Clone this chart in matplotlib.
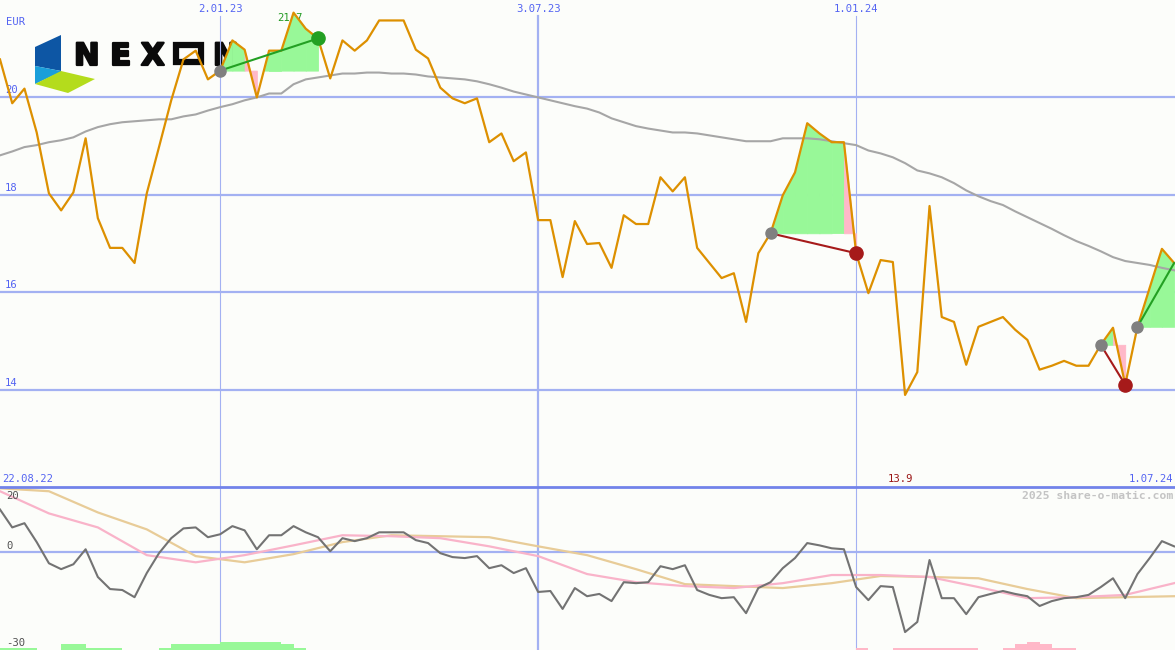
import matplotlib
matplotlib.use("Agg")
import matplotlib.pyplot as plt
import matplotlib.dates as mdates
import matplotlib.patheffects as pe
from matplotlib.patches import Polygon, Rectangle
from matplotlib.lines import Line2D
import numpy as np
import pandas as pd

# weekly closes, EUR
weeks = pd.date_range("2022-08-29", periods=97, freq="7D")
price = [20.78, 19.88, 20.18, 19.28, 18.03, 17.68, 18.05, 19.16, 17.52, 16.91,
         16.91, 16.60, 18.03, 18.98, 19.94, 20.78, 20.96, 20.37, 20.55, 21.17,
         20.98, 20.00, 20.96, 20.96, 21.74, 21.41, 21.21, 20.39, 21.17, 20.96,
         21.17, 21.58, 21.58, 21.58, 20.98, 20.80, 20.20, 19.98, 19.88, 19.98,
         19.08, 19.26, 18.69, 18.87, 17.48, 17.48, 16.31, 17.46, 16.99, 17.01,
         16.50, 17.58, 17.40, 17.40, 18.36, 18.07, 18.36, 16.91, 16.60, 16.29,
         16.39, 15.39, 16.80, 17.21, 17.99, 18.46, 19.47, 19.26, 19.08, 19.08,
         16.80, 15.98, 16.66, 16.62, 13.89, 14.36, 17.77, 15.49, 15.39, 14.51,
         15.29, 15.39, 15.49, 15.23, 15.02, 14.41, 14.49, 14.59, 14.49, 14.49,
         14.92, 15.27, 14.10, 15.29, 16.09, 16.89, 16.60]
avg_line = [18.81, 18.89, 18.98, 19.02, 19.08, 19.12, 19.18, 19.30, 19.39, 19.45,
            19.49, 19.51, 19.53, 19.55, 19.55, 19.61, 19.65, 19.73, 19.80, 19.86,
            19.94, 20.00, 20.08, 20.08, 20.27, 20.37, 20.41, 20.45, 20.49, 20.49,
            20.51, 20.51, 20.49, 20.49, 20.47, 20.43, 20.41, 20.39, 20.37, 20.33,
            20.27, 20.20, 20.12, 20.06, 20.00, 19.94, 19.88, 19.82, 19.77, 19.69,
            19.57, 19.49, 19.41, 19.36, 19.32, 19.28, 19.28, 19.26, 19.22, 19.18,
            19.14, 19.10, 19.10, 19.10, 19.16, 19.16, 19.16, 19.14, 19.10, 19.06,
            19.02, 18.91, 18.85, 18.77, 18.65, 18.50, 18.44, 18.36, 18.24, 18.09,
            17.97, 17.87, 17.79, 17.66, 17.54, 17.42, 17.30, 17.17, 17.05, 16.95,
            16.84, 16.72, 16.64, 16.60, 16.56, 16.50, 16.45]

# trades: entry week, exit week, closed?
trade_start = [18, 63, 90, 93]
trade_end = [26, 70, 92, 96]
trade_closed = [True, True, True, False]

# lower panel
osc = [13.1, 7.6, 8.9, 3.1, -3.4, -5.2, -3.7, 0.9, -7.6, -11.3,
       -11.6, -13.8, -6.4, -0.3, 4.3, 7.3, 7.6, 4.6, 5.5, 8.0,
       6.7, 0.9, 5.2, 5.2, 8.0, 6.1, 4.6, 0.3, 4.3, 3.4,
       4.3, 6.1, 6.1, 6.1, 3.7, 2.8, -0.3, -1.5, -1.8, -1.2,
       -4.9, -4.0, -6.4, -4.9, -12.2, -11.9, -17.4, -11.0, -13.5, -12.8,
       -15.0, -9.2, -9.5, -9.2, -4.3, -5.2, -4.0, -11.6, -13.1, -14.1,
       -13.8, -18.7, -11.0, -9.2, -4.9, -1.8, 2.8, 2.1, 1.2, 0.9,
       -10.7, -14.7, -10.4, -10.7, -24.5, -21.4, -2.4, -14.1, -14.1, -19.0,
       -13.8, -12.8, -11.9, -12.8, -13.5, -16.5, -15.0, -14.1, -13.8, -13.1,
       -10.7, -8.0, -14.1, -6.7, -1.8, 3.4, 1.8]
# smooth lines, sampled every 4 weeks
osc_fast = [18.7, 11.9, 7.6, -0.9, -3.1, -0.9, 2.1, 5.2, 4.9, 4.3, 1.8, -1.2, -6.7,
            -9.2, -10.4, -11.0, -9.5, -7.0, -7.0, -7.6, -10.7, -14.1, -13.8, -13.1, -9.5]
osc_slow = [19.6, 18.7, 12.2, 7.0, -1.2, -3.1, -0.6, 3.1, 5.2, 4.9, 4.6, 1.8, -0.9,
            -5.2, -9.8, -10.4, -11.0, -9.5, -7.3, -7.6, -8.0, -11.3, -14.1, -13.8, -13.5]
hist = [0.7, 0.7, 0.7, 0, 0, 1.8, 1.8, 0.7, 0.7, 0.7,
        0, 0, 0, 0.7, 1.8, 1.8, 1.8, 1.8, 2.5, 2.5,
        2.5, 2.5, 2.5, 1.8, 0.7, 0, 0, 0, 0, 0,
        0, 0, 0, 0, 0, 0, 0, 0, 0, 0,
        0, 0, 0, 0, 0, 0, 0, 0, 0, 0,
        0, 0, 0, 0, 0, 0, 0, 0, 0, 0,
        0, 0, 0, 0, 0, 0, 0, 0, 0, 0,
        -0.7, 0, 0, -0.7, -0.7, -0.7, -0.7, -0.7, -0.7, -0.7,
        0, 0, -0.7, -1.8, -2.5, -1.8, -0.7, -0.7, 0, 0,
        0, 0, 0, 0, 0, 0, 0]

price_grid = [14, 16, 18, 20]
osc_ticks = [20, 0, -30]
tick_dates = ["2023-01-02", "2023-07-03", "2024-01-01"]
tick_labels = ["2.01.23", "3.07.23", "1.01.24"]
tick_width = [1, 2, 1]
range_labels = ["22.08.22", "1.07.24"]

BG = "#fcfdfa"
GRID = "#a3b1f2"
BLUE_TXT = "#5464f2"
GREEN_FILL = "#98f898"
PINK_FILL = "#ffb8c8"
MONO = "DejaVu Sans Mono"

W, H = 1175, 650
fig = plt.figure(figsize=(W / 100, H / 100), dpi=100, facecolor=BG)

# logo layer (pixel coordinates)
lg = fig.add_axes([0, 0, 1, 1], zorder=0)
lg.set_xlim(0, W)
lg.set_ylim(H, 0)
lg.axis("off")
lg.add_patch(Polygon([(35, 47), (61, 35), (61, 71), (35, 66)], color="#0d56a4", lw=0))
lg.add_patch(Polygon([(35, 66), (61, 71), (61, 72), (35, 84)], color="#1a9fda", lw=0))
lg.add_patch(Polygon([(35, 84), (61, 71), (95, 79), (68, 93)], color="#b4dc1c", lw=0))
thick = [pe.withStroke(linewidth=1.6, foreground="#0a0a0a")]
for ch, lx in zip("NEX", [74, 110, 141]):
    lg.text(lx, 65, ch, fontsize=22, fontweight="bold", family="DejaVu Sans",
            color="#0a0a0a", va="baseline", ha="left", path_effects=thick)
lg.add_patch(Rectangle((176, 45), 25, 17, fill=False, ec="#0a0a0a", lw=4.5))
lg.text(213, 65, "N", fontsize=22, fontweight="bold", family="DejaVu Sans",
        color="#0a0a0a", va="baseline", ha="left", path_effects=thick)

x = mdates.date2num(weeks)
xs4 = x[::4]
xlim = (x[0], x[0] + 96.07 * 7)

ax = fig.add_axes([0, 163 / H, 1, 487 / H], zorder=1)
ax2 = fig.add_axes([0, 0, 1, 163 / H], zorder=1)
for a in (ax, ax2):
    a.set_facecolor("none")
    a.set_xlim(*xlim)
    a.axis("off")
ax.set_ylim(12, 22)
ax2.set_ylim(-30, 20)

for v in price_grid:
    ax.axhline(v, color=GRID, lw=1.6, zorder=1)
for d, w in zip(tick_dates, tick_width):
    dn = mdates.date2num(pd.Timestamp(d))
    ax.axvline(dn, ymax=1 - 16 / 487, color=GRID, lw=w * 0.8, zorder=1)
    ax2.axvline(dn, color=GRID, lw=w * 0.8, zorder=1)

p = np.array(price)
for s, e, closed in zip(trade_start, trade_end, trade_closed):
    entry = p[s]
    for i in range(s, e):
        xx = x[i:i + 2]
        pp = p[i:i + 2]
        if pp[1] >= entry:
            ax.fill_between(xx, pp, entry, where=pp >= entry, interpolate=True,
                            facecolor=GREEN_FILL, edgecolor=GREEN_FILL, lw=0.6, zorder=2)
        else:
            ax.fill_between(xx, pp, entry, facecolor=PINK_FILL, edgecolor=PINK_FILL,
                            lw=0.6, zorder=2)
    win = p[e] >= entry
    ax.plot([x[s], x[e]], [entry, p[e]], color="#23a023" if win else "#a61a1a",
            lw=1.5, zorder=5)
    ax.plot(x[s], entry, "o", ms=8, color="#808080", zorder=6)
    if closed:
        ax.plot(x[e], p[e], "o", ms=9.5, color="#23a023" if win else "#a61a1a", zorder=6)

ax.plot(x, avg_line, color="#a6a6a6", lw=1.5, zorder=3)
ax.plot(x, price, color="#dd9000", lw=1.6, zorder=4)

# lower panel
ax2.axhline(0, color=GRID, lw=1.6, zorder=1)
hv = np.array(hist)
ax2.bar(x, np.abs(hv), width=7, bottom=-30, align="edge",
        color=np.where(hv >= 0, GREEN_FILL, PINK_FILL), lw=0, zorder=2)
ax2.plot(xs4, osc_slow, color="#e8cc98", lw=1.6, zorder=3)
ax2.plot(xs4, osc_fast, color="#f9b3c9", lw=1.6, zorder=3)
ax2.plot(x, osc, color="#737373", lw=1.5, zorder=4)

# separator between panels
fig.add_artist(Line2D([0, 1], [163 / H, 163 / H], color="#7283ea", lw=2))

def px(xp, yp):
    return xp / W, 1 - yp / H

fs = 7.6
fig.text(*px(6, 22), "EUR", family=MONO, fontsize=fs, color=BLUE_TXT, va="center")
for v in price_grid:
    ax.text(0.004, v + 0.04, str(v), transform=ax.get_yaxis_transform(),
            family=MONO, fontsize=fs, color=BLUE_TXT, va="bottom", ha="left")
for lab, d in zip(tick_labels, tick_dates):
    dn = mdates.date2num(pd.Timestamp(d))
    ax.text(dn, 1 - 9 / 487, lab, transform=ax.get_xaxis_transform(),
            family=MONO, fontsize=fs, color=BLUE_TXT, ha="center", va="center")
fig.text(*px(2, 479), range_labels[0], family=MONO, fontsize=fs, color=BLUE_TXT,
         va="center", ha="left")
fig.text(*px(1173, 479), range_labels[1], family=MONO, fontsize=fs, color=BLUE_TXT,
         va="center", ha="right")

# max / min labels
imax, imin = int(np.argmax(p)), int(np.argmin(p))
ax.text(x[imax] - 16 * 7 / 12.23, 1 - 18 / 487, f"{p[imax]:.1f}",
        transform=ax.get_xaxis_transform(), family=MONO, fontsize=fs,
        color="#229a22", va="center", ha="left", zorder=1.5)
fig.text(*px(888, 479), f"{p[imin]:.1f}", family=MONO, fontsize=fs,
         color="#9a1515", va="center", ha="left")

fig.text(*px(1173, 496), "2025 share-o-matic.com", family=MONO, fontsize=8.2,
         fontweight="bold", color="#c4c4c4", va="center", ha="right")

for v, yp in zip(osc_ticks, [496, 546, 643]):
    fig.text(*px(6, yp), str(v), family=MONO, fontsize=fs, color="#505050",
             va="center", ha="left")

fig.savefig("out.png", dpi=100, facecolor=BG)
